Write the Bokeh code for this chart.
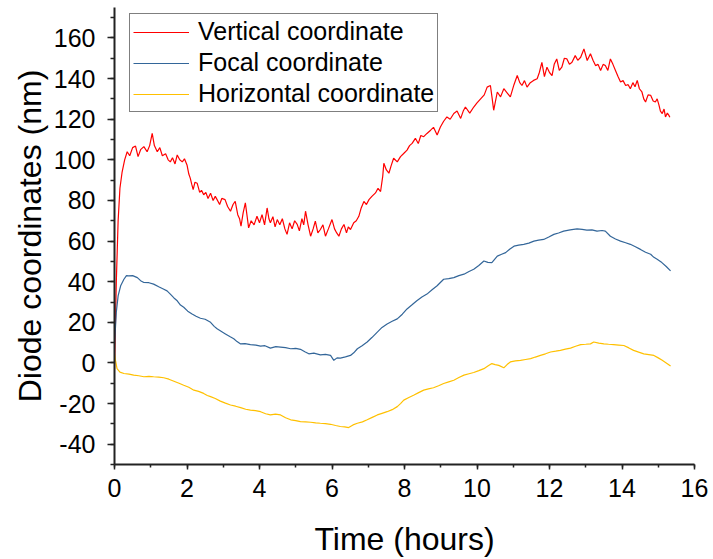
from bokeh.plotting import figure
from bokeh.models import Range1d, SingleIntervalTicker, Legend, LegendItem, CustomJSTickFormatter
from bokeh.embed import file_html
from bokeh.resources import INLINE

series_names = ["Vertical coordinate", "Focal coordinate", "Horizontal coordinate"]

red_t = [0.00, 0.05, 0.10, 0.15, 0.21, 0.28, 0.35, 0.42, 0.50, 0.58, 0.65, 0.72, 0.81, 0.90, 0.97,
         1.04, 1.10, 1.18, 1.25, 1.32, 1.41, 1.48, 1.54, 1.60, 1.67, 1.73, 1.80, 1.87, 1.93, 2.00,
         2.05, 2.09, 2.13, 2.17, 2.22, 2.28, 2.35, 2.40, 2.46, 2.52, 2.58, 2.65, 2.72, 2.78, 2.83,
         2.90, 2.96, 3.05, 3.12, 3.20, 3.27, 3.33, 3.40, 3.45, 3.49, 3.55, 3.61, 3.66, 3.70, 3.77,
         3.85, 3.93, 4.00, 4.07, 4.14, 4.21, 4.26, 4.30, 4.37, 4.43, 4.49, 4.56, 4.63, 4.70, 4.76,
         4.83, 4.90, 4.97, 5.04, 5.10, 5.17, 5.22, 5.27, 5.34, 5.41, 5.48, 5.54, 5.61, 5.68, 5.75,
         5.82, 5.90, 6.00, 6.07, 6.13, 6.19, 6.26, 6.33, 6.40, 6.45, 6.51, 6.60, 6.67, 6.74, 6.80,
         6.88, 6.95, 7.02, 7.10, 7.20, 7.27, 7.34, 7.40, 7.43, 7.50, 7.57, 7.63, 7.70, 7.80, 7.89,
         7.97, 8.07, 8.14, 8.21, 8.30, 8.38, 8.45, 8.53, 8.62, 8.72, 8.80, 8.90, 8.99, 9.08, 9.17,
         9.26, 9.36, 9.45, 9.55, 9.62, 9.68, 9.80, 9.91, 10.00, 10.10, 10.20, 10.28, 10.37, 10.42,
         10.46, 10.56, 10.65, 10.74, 10.83, 10.92, 11.02, 11.11, 11.18, 11.24, 11.31, 11.38, 11.47,
         11.56, 11.66, 11.72, 11.79, 11.86, 11.93, 12.00, 12.07, 12.13, 12.20, 12.27, 12.34, 12.41,
         12.48, 12.55, 12.62, 12.71, 12.78, 12.86, 12.95, 13.04, 13.13, 13.20, 13.27, 13.34, 13.41,
         13.48, 13.54, 13.61, 13.68, 13.75, 13.82, 13.89, 13.96, 14.03, 14.10, 14.17, 14.23, 14.30,
         14.36, 14.42, 14.48, 14.55, 14.60, 14.65, 14.72, 14.79, 14.86, 14.92, 14.97, 15.02, 15.06,
         15.11, 15.16, 15.20, 15.25, 15.29, 15.32]
red_v = [-3, 40, 70, 86, 94, 100, 104, 102, 106, 106.8, 101.6, 105, 106.5, 104, 107,
         113, 107, 104, 106, 102, 103, 100, 99, 101, 98, 102.4, 100, 99, 100.5, 97.5,
         93, 91, 88, 85.3, 89, 88.5, 84, 85, 82.8, 84, 81, 83.6, 80, 82, 80.4,
         78, 81, 80.4, 77, 74.7, 78, 79.6, 73, 71, 67.3, 74, 78.8, 72, 66.5, 70,
         68, 72.2, 69, 73, 68, 76.3, 71, 69, 72, 67, 70.6, 68, 71, 66, 63.3,
         69, 66, 70, 68.2, 65, 71, 68, 74.7, 68, 62.4, 66, 69.8, 64, 65.7, 68,
         62.4, 66, 70.6, 66, 64, 62.4, 66, 68.2, 64, 67, 65.7, 69, 70, 72.2, 76,
         79.5, 78, 80.4, 82, 83.7, 86, 84.4, 92, 98.3, 95, 93.4, 97, 100.8, 99, 101.6,
         103, 104.8, 107, 108.1, 110.6, 108, 112, 111.4, 113, 114.6, 116, 112.2, 116.2, 119, 121.1,
         120, 122.8, 124, 120.4, 124, 126, 123, 126, 128, 130, 132, 135.8, 136.6, 130,
         124.4, 133.4, 131, 135, 133, 131, 137, 141.5, 138, 136.6, 139, 135.8, 138,
         139.1, 139.9, 143, 148, 141, 145.6, 143, 141.5, 147, 149.7, 144, 145.6, 150,
         149.7, 147, 148, 151.3, 149, 150.5, 154.6, 148.9, 152.2, 149, 146.4, 147, 144,
         147, 146.4, 144, 149.7, 147, 144, 141, 138.3, 139, 136.6, 137, 135, 138,
         136, 139.1, 135, 133.4, 130, 128.5, 132, 131.8, 129, 128.5, 130, 126.9, 124,
         122.8, 125, 121.1, 123, 122, 121]

blue_t = [0.00, 0.05, 0.10, 0.17, 0.26, 0.33, 0.39, 0.50, 0.63, 0.72, 0.81, 0.95, 1.08, 1.22, 1.36,
          1.45, 1.54, 1.64, 1.73, 1.82, 1.91, 2.02, 2.14, 2.25, 2.37, 2.50, 2.65, 2.75, 2.83, 2.95,
          3.06, 3.18, 3.29, 3.38, 3.47, 3.60, 3.75, 3.90, 4.03, 4.15, 4.30, 4.45, 4.58, 4.72, 4.86,
          5.00, 5.13, 5.25, 5.36, 5.50, 5.68, 5.82, 5.96, 6.05, 6.14, 6.23, 6.37, 6.51, 6.60, 6.70,
          6.83, 6.97, 7.10, 7.25, 7.38, 7.52, 7.66, 7.80, 7.94, 8.07, 8.20, 8.34, 8.48, 8.62, 8.76,
          8.90, 9.08, 9.22, 9.36, 9.50, 9.64, 9.78, 9.91, 10.05, 10.19, 10.30, 10.41, 10.56, 10.68,
          10.79, 10.90, 11.02, 11.15, 11.29, 11.43, 11.57, 11.70, 11.84, 11.98, 12.12, 12.25, 12.39,
          12.57, 12.76, 12.90, 13.03, 13.17, 13.31, 13.45, 13.54, 13.68, 13.82, 13.96, 14.10, 14.23,
          14.37, 14.51, 14.65, 14.79, 14.88, 14.97, 15.10, 15.22, 15.34]
blue_v = [9, 25, 33, 38, 41.2, 43, 42.9, 43, 42, 40.5, 39.6, 39.5, 38.8, 37.5, 36.3,
          35.5, 33.9, 32, 30.6, 28.5, 27.4, 25.5, 24.1, 23, 22, 21.5, 20, 18, 16.8, 15.5,
          14.3, 13, 11.9, 10.5, 9.4, 9.5, 9, 8.8, 8.3, 8.5, 7.3, 8, 7.8, 7.5, 7,
          7.2, 6.7, 5.5, 4.5, 4.8, 4, 4.2, 3.7, 1.3, 2.5, 2.4, 3, 3.7, 5, 7,
          8.5, 10.3, 12.5, 15.2, 17.5, 19.2, 20.5, 21.7, 24, 26.6, 28.5, 30.6, 32.5, 33.9, 36,
          38, 41.2, 41.5, 42, 43, 43.7, 45, 46.1, 48, 50.2, 49.5, 49.4, 52.6, 53.5,
          54.3, 56, 57.5, 58, 58.4, 59, 60, 60.5, 60.8, 62, 63.3, 64, 64.9,
          65.5, 66, 65.8, 65.4, 65.5, 64.9, 65.2, 64.9, 62.4, 61, 60, 59.2, 58.4,
          57.2, 55.9, 54.5, 53.5, 52, 51, 49.4, 47.5, 45.3]

yellow_t = [0.00, 0.03, 0.07, 0.15, 0.26, 0.40, 0.53, 0.67, 0.81, 0.95, 1.08, 1.22, 1.36, 1.50, 1.64,
            1.78, 1.91, 2.05, 2.19, 2.32, 2.46, 2.56, 2.65, 2.78, 2.92, 3.06, 3.20, 3.34, 3.48, 3.62,
            3.75, 3.89, 4.03, 4.17, 4.30, 4.44, 4.58, 4.72, 4.86, 5.00, 5.13, 5.27, 5.41, 5.55, 5.68,
            5.82, 5.96, 6.10, 6.23, 6.35, 6.46, 6.58, 6.70, 6.84, 6.97, 7.11, 7.25, 7.38, 7.52, 7.66,
            7.80, 7.89, 7.98, 8.12, 8.25, 8.39, 8.53, 8.66, 8.80, 8.94, 9.08, 9.22, 9.36, 9.50, 9.64,
            9.78, 9.91, 10.05, 10.19, 10.30, 10.41, 10.50, 10.60, 10.74, 10.83, 10.92, 11.06, 11.20,
            11.34, 11.48, 11.61, 11.75, 11.89, 12.03, 12.17, 12.30, 12.44, 12.58, 12.72, 12.86, 13.00,
            13.13, 13.22, 13.36, 13.50, 13.63, 13.77, 13.91, 14.05, 14.19, 14.32, 14.46, 14.60, 14.74,
            14.88, 15.00, 15.11, 15.22, 15.34]
yellow_v = [4.5, 1, -2.8, -4.5, -5.2, -5.5, -6, -6.3, -6.8, -6.6, -6.8, -7, -7.3, -8, -9,
            -10, -11, -12, -13.4, -14, -15, -16, -16.6, -17.5, -18.8, -19.8, -20.7, -21.3, -22, -22.8,
            -23.2, -23.5, -24, -25, -25.6, -25.2, -25.6, -27, -28, -28.4, -28.9, -29, -29.2, -29.5, -29.7,
            -29.9, -30.2, -30.8, -31.3, -31.5, -31.8, -30.5, -29.7, -29, -28, -26.8, -25.6, -24.8, -24, -23,
            -21.5, -20, -18.3, -17, -15.9, -14.6, -13.4, -12.8, -12.2, -11.2, -10.1, -9.3, -8.5, -7.2, -6,
            -5.3, -4.7, -3.8, -2.8, -1.5, -0.3, -0.8, -1.2, -2.4, -0.8, 0.5, 1, 1.3,
            1.7, 2.1, 2.9, 3.7, 4.5, 5.4, 5.8, 6.2, 6.8, 7.3, 8.2, 9, 9.2,
            9.4, 10.3, 9.8, 9.4, 9.2, 9, 8.8, 8.6, 7.4, 6.2, 5.3, 4.5, 4.1,
            3.7, 2.5, 1.3, 0, -1.5]

x_label = "Time (hours)"
y_label = "Diode coordinates (nm)"

FONT = "Liberation Sans"

p = figure(width=713, height=559, output_backend="svg", toolbar_location=None,
           x_range=Range1d(0, 16), y_range=Range1d(-50, 175),
           min_border_left=114, min_border_right=19, min_border_top=7, min_border_bottom=92)
p.outline_line_color = None
p.xgrid.visible = False
p.ygrid.visible = False
p.background_fill_color = "white"
p.border_fill_color = "white"

colors = ["#FF0000", "#336699", "#FFC000"]
r1 = p.line(red_t, red_v, line_color=colors[0], line_width=1.2)
r2 = p.line(blue_t, blue_v, line_color=colors[1], line_width=1.2)
r3 = p.line(yellow_t, yellow_v, line_color=colors[2], line_width=1.2)

p.xaxis.ticker = SingleIntervalTicker(interval=2, num_minor_ticks=2)
p.yaxis.ticker = SingleIntervalTicker(interval=20, num_minor_ticks=2)
fmt = CustomJSTickFormatter(code="return tick.toFixed(0);")

for ax in (p.xaxis[0], p.yaxis[0]):
    ax.formatter = fmt
    ax.axis_line_width = 2
    ax.axis_line_color = "#222222"
    ax.major_tick_line_color = "#222222"
    ax.minor_tick_line_color = "#222222"
    ax.major_tick_line_width = 1.5
    ax.minor_tick_line_width = 1.5
    ax.major_tick_in = 0
    ax.minor_tick_in = 0
    ax.major_label_text_font = FONT
    ax.major_label_text_font_size = "25px"
    ax.major_label_text_color = "black"
    ax.axis_label_text_font = FONT
    ax.axis_label_text_font_size = "32px"
    ax.axis_label_text_font_style = "normal"
    ax.axis_label_text_color = "black"

p.xaxis.major_tick_out = 5
p.xaxis.minor_tick_out = 3
p.yaxis.major_tick_out = 7
p.yaxis.minor_tick_out = 4
p.xaxis.major_label_standoff = 9
p.yaxis.major_label_standoff = 12
p.xaxis.axis_label = x_label
p.yaxis.axis_label = y_label
p.xaxis.axis_label_standoff = 21
p.yaxis.axis_label_standoff = 3

legend = Legend(items=[LegendItem(label=series_names[0], renderers=[r1]),
                       LegendItem(label=series_names[1], renderers=[r2]),
                       LegendItem(label=series_names[2], renderers=[r3])],
                location=(15, 352))
legend.label_text_font = FONT
legend.label_text_font_size = "25px"
legend.label_text_color = "black"
legend.glyph_width = 56
legend.glyph_height = 26
legend.label_height = 26
legend.label_standoff = 9
legend.padding = 3
legend.spacing = 2
legend.margin = 0
legend.border_line_color = "black"
legend.border_line_width = 1.5
legend.background_fill_color = "white"
legend.background_fill_alpha = 1
p.add_layout(legend)

open("out.html", "w").write(file_html(p, INLINE))
